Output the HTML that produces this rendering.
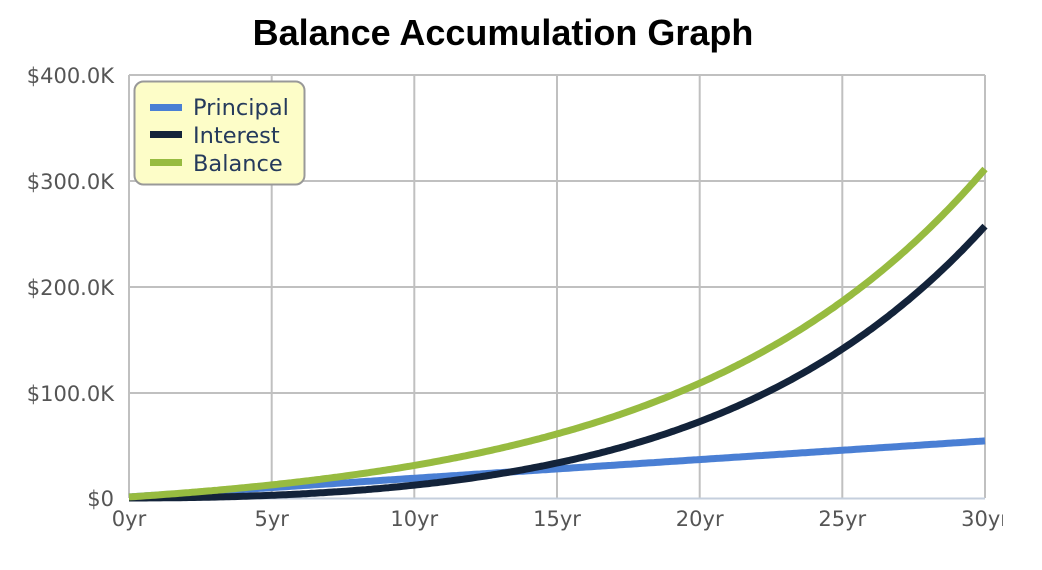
<!DOCTYPE html>
<html><head><meta charset="utf-8"><style>
body{margin:0;background:#fff;width:1042px;height:570px;overflow:hidden}
svg{display:block}
</style></head><body>
<svg id="s" width="1042" height="570" xmlns="http://www.w3.org/2000/svg" font-family="'DejaVu Sans','Liberation Sans',sans-serif">
<text x="503" y="45" text-anchor="middle" font-family="'Liberation Sans',sans-serif" font-weight="bold" font-size="36" fill="#000">Balance Accumulation Graph</text>
<g stroke="#c0c0c0" stroke-width="2" fill="none">
<line x1="129" y1="75" x2="985" y2="75"/>
<line x1="129" y1="181" x2="985" y2="181"/>
<line x1="129" y1="287" x2="985" y2="287"/>
<line x1="129" y1="393" x2="985" y2="393"/>
<line x1="129" y1="75" x2="129" y2="498"/>
<line x1="271.7" y1="75" x2="271.7" y2="498"/>
<line x1="414.3" y1="75" x2="414.3" y2="498"/>
<line x1="557" y1="75" x2="557" y2="498"/>
<line x1="699.7" y1="75" x2="699.7" y2="498"/>
<line x1="842.3" y1="75" x2="842.3" y2="498"/>
<line x1="985" y1="75" x2="985" y2="498"/>
</g>
<line x1="129" y1="498.5" x2="985" y2="498.5" stroke="#c5cfdd" stroke-width="2"/>
<g font-size="21" fill="#555" text-anchor="end">
<text x="114" y="83">$400.0K</text>
<text x="114" y="189">$300.0K</text>
<text x="114" y="295">$200.0K</text>
<text x="114" y="401">$100.0K</text>
<text x="114" y="506">$0</text>
</g>
<g font-size="21" fill="#555" text-anchor="middle">
<text x="129" y="526">0yr</text>
<text x="271.7" y="526">5yr</text>
<text x="414.3" y="526">10yr</text>
<text x="557" y="526">15yr</text>
<text x="699.7" y="526">20yr</text>
<text x="842.3" y="526">25yr</text>
<text x="985" y="526">30yr</text>
</g>
<g id="lines" fill="none" stroke-width="7" stroke-linejoin="round"></g>
<rect x="134.5" y="81.5" width="170" height="103" rx="9" fill="#fdfdc8" stroke="#999" stroke-width="2"/>
<rect x="150" y="104" width="32" height="7" fill="#4a7fd4"/>
<rect x="150" y="131" width="32" height="7" fill="#13233a"/>
<rect x="150" y="159" width="32" height="7" fill="#97bb40"/>
<g font-size="22.5" fill="#253a5c">
<text x="193" y="115">Principal</text>
<text x="193" y="143">Interest</text>
<text x="193" y="171">Balance</text>
</g>
<rect x="1003" y="500" width="39" height="40" fill="#fff"/>
</svg>
<script>
var r=0.1005,c=1767,p0=1000;
function X(t){return 129+t*28.533}
function Y(v){return 498-v/400000*423}
var pp=[],ip=[],bp=[];
for(var i=0;i<=300;i++){var t=i/10;var g=Math.pow(1+r,t);var b=p0*g+c*(g-1)/r;var p=p0+c*t;
pp.push(X(t).toFixed(1)+","+Y(p).toFixed(1));ip.push(X(t).toFixed(1)+","+Y(b-p).toFixed(1));bp.push(X(t).toFixed(1)+","+Y(b).toFixed(1));}
var g=document.getElementById('lines');
g.innerHTML='<polyline points="'+pp.join(' ')+'" stroke="#4a7fd4"/><polyline points="'+ip.join(' ')+'" stroke="#13233a"/><polyline points="'+bp.join(' ')+'" stroke="#97bb40"/>';
</script>
</body></html>
